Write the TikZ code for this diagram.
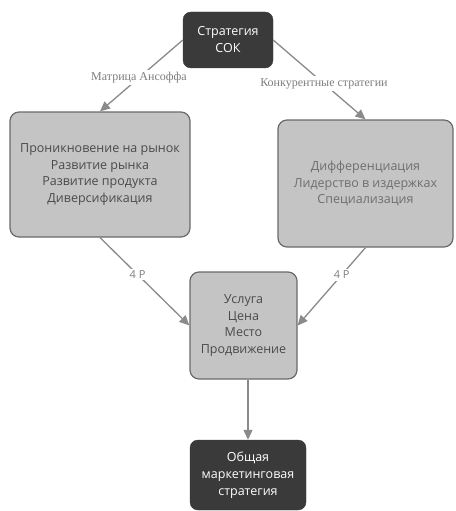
\documentclass[tikz,border=0pt]{standalone}
\usepackage{fontspec}
\setmainfont{Open Sans}
\newfontfamily\lblfont{Liberation Serif}
\usetikzlibrary{arrows.meta,positioning}
\definecolor{darkbox}{HTML}{3A3A3A}
\definecolor{boxfill}{HTML}{C4C4C4}
\definecolor{boxline}{HTML}{6A6A6A}
\definecolor{boxtext}{HTML}{4A4A4A}
\definecolor{pale}{HTML}{6E6E6E}
\definecolor{arrline}{HTML}{8A8A8A}
\definecolor{lbltext}{HTML}{7E7E7E}

\begin{document}
\begin{tikzpicture}[x=1pt,y=-1pt,
	dark/.style={draw=darkbox,fill=darkbox,rounded corners=8pt,inner sep=0pt,
		text=white,align=center,font=\fontsize{12.5}{17}\selectfont},
	grey/.style={draw=boxline,line width=1.2pt,fill=boxfill,rounded corners=9pt,
		inner sep=0pt,text=boxtext,align=center,font=\fontsize{12.5}{16.5}\selectfont},
	arr/.style={draw=arrline,line width=1.3pt,-{Triangle[length=10pt,width=9pt]}},
	lbl/.style={fill=white,text=lbltext,inner sep=2pt,
		font=\lblfont\fontsize{12}{13}\selectfont},
	four/.style={fill=white,text=lbltext,inner sep=2pt,
		font=\fontsize{11}{12}\selectfont}]
	\useasboundingbox (0,0) rectangle (455,511);
	\node[dark,minimum width=90pt,minimum height=56pt] (sok) at (228,40) {Стратегия\\СОК};
	\node[grey,minimum width=180pt,minimum height=125pt] (ansoff) at (100,174.5)
		{Проникновение на рынок\\Развитие рынка\\Развитие продукта\\Диверсификация};
	\node[grey,text=pale,minimum width=175pt,minimum height=127pt] (konk) at (365.5,183.5)
		{Дифференциация\\Лидерство в издержках\\Специализация};
	\node[grey,minimum width=107pt,minimum height=107pt] (mix) at (243.5,325.5)
		{Услуга\\Цена\\Место\\Продвижение};
	\node[dark,minimum width=116pt,minimum height=70pt] (obsh) at (248,475)
		{Общая\\маркетинговая\\стратегия};
	\draw[arr] (sok.west) -- node[lbl,pos=0.53] {Матрица Ансоффа} (ansoff.north);
	\draw[arr] (sok.east) -- node[lbl,pos=0.55] {Конкурентные стратегии} (konk.north);
	\draw[arr] (ansoff.south) -- node[four,pos=0.42] {4 P} (mix.west);
	\draw[arr] (konk.south) -- node[four,pos=0.35] {4 P} (mix.east);
	\draw[arr] (mix.south -| obsh) -- (obsh.north);
\end{tikzpicture}
\end{document}
